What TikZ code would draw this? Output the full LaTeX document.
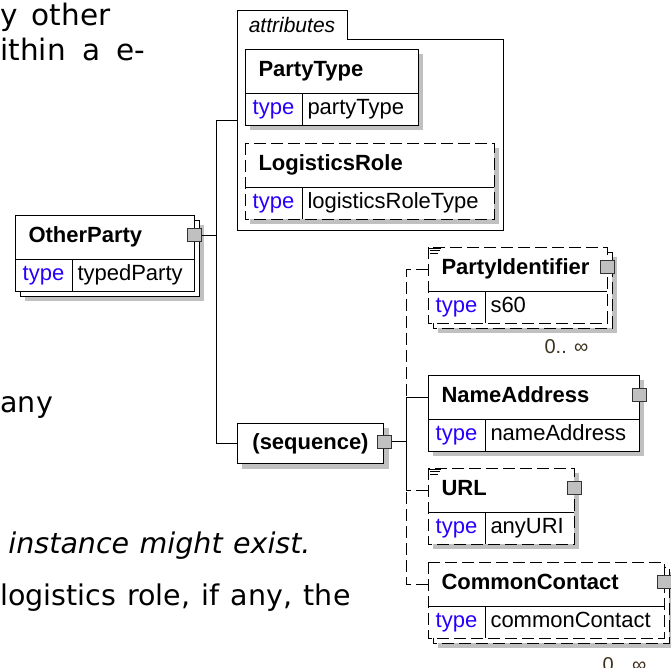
\documentclass[tikz,border=0pt]{standalone}
\usepackage{fontspec}
\setmainfont{Liberation Sans}
\newfontfamily\bgfont{DejaVu Sans}
\usetikzlibrary{positioning,backgrounds}

\definecolor{typeblue}{RGB}{40,0,255}
\definecolor{shadowgray}{RGB}{192,192,192}
\definecolor{occtext}{RGB}{60,50,30}

\tikzset{
  elname/.style={anchor=north west, minimum height=43, inner xsep=13, inner ysep=0,
    align=left, text height=16, text depth=5, font=\fontsize{22}{26}\selectfont\bfseries},
  eltype/.style={anchor=north west, minimum width=56, minimum height=31, inner sep=0,
    text height=16, text depth=5, text=typeblue, font=\fontsize{22}{26}\selectfont},
  elvalue/.style={anchor=west, inner xsep=5, inner ysep=0, text height=16, text depth=5,
    font=\fontsize{22}{26}\selectfont},
  seqbox/.style={anchor=north west, draw, fill=white, minimum width=146, minimum height=40,
    inner sep=0, text height=16, text depth=5, font=\fontsize{22}{26}\selectfont\bfseries},
  attrtab/.style={anchor=north west, minimum width=109, minimum height=28, inner sep=0,
    text height=15, text depth=0, font=\fontsize{21}{25}\selectfont\itshape},
  optional/.style={dash pattern=on 12pt off 5pt},
  required/.style={solid},
  elshadow/.style={fill=shadowgray},
  expander/.style={draw=black!80, fill=shadowgray, minimum width=14, minimum height=13,
    inner sep=0, yshift=2pt},
  occurs/.style={anchor=base east, inner sep=0, text=occtext, font=\fontsize{20}{24}\selectfont},
  bgtext/.style={anchor=base west, inner sep=0, font=\bgfont\fontsize{28.5}{34}\selectfont},
  bgbig/.style={bgtext, font=\bgfont\fontsize{29.5}{35}\selectfont},
  bgitalic/.style={bgtext, font=\bgfont\itshape\fontsize{28.5}{34}\selectfont},
  docmark/.pic={\draw[line width=0.8] (0,0) -- (13,0) (2,2.5) -- (12,2.5) (2,5) -- (10,5);},
}

% #1 id, #2 top left, #3 width of the name, #4 name, #5 type, #6 border, #7 copies behind
\newcommand{\xsdelement}[7]{%
  \node[elname, text width=#3] (#1) at (#2) {#4};
  \node[eltype] (#1-t) at (#1.south west) {type};
  \node[elvalue] (#1-v) at (#1-t.east) {#5};
  \coordinate (#1-se) at (#1.east |- #1-t.south);
  \begin{scope}[on background layer]
    \fill[elshadow] ([shift={(5+5*#7,5+5*#7)}]#1.north west) rectangle ([shift={(5+5*#7,5+5*#7)}]#1-se);
    \ifnum#7>0
      \draw[#6, fill=white] ([shift={(5,5)}]#1.north west) rectangle ([shift={(5,5)}]#1-se);
    \fi
    \draw[#6, fill=white] (#1.north west) rectangle (#1-se);
  \end{scope}
  \draw (#1.south west) -- (#1.south east) (#1-t.north east) -- (#1-t.south east);
}

\begin{document}
\begin{tikzpicture}[x=1pt, y=-1pt, line width=1pt]
  \useasboundingbox (0,0) rectangle (671,667);

  % text of the page behind the diagram
  \node[bgbig] (bg-1) at (0,25) {\makebox[110pt][s]{y other}};
  \node[bgbig] (bg-2) at (0,60) {\makebox[145pt][s]{ithin a e-}};
  \node[bgtext] (bg-3) at (0,412) {any};
  \node[bgitalic] (bg-4) at (8,553) {\makebox[302pt][s]{instance might exist.}};
  \node[bgtext] (bg-5) at (0,605) {\makebox[350pt][s]{logistics role, if any, the}};

  % attributes
  \node[anchor=north west, minimum width=265, minimum height=219, inner sep=0] (attr) at (237,10) {};
  \node[attrtab] (attr-tab) at (attr.north west) {attributes};
  \draw (attr.south west) -- (attr.north west) -- (attr-tab.north east) -- (attr-tab.south east)
    -| (attr.south east) -- cycle;
  \xsdelement{pt}{245,49}{146pt}{PartyType}{partyType}{required}{0}
  \xsdelement{lr}{245,143}{222pt}{LogisticsRole}{logisticsRoleType}{optional}{0}

  % root and sequence
  \xsdelement{op}{15,215}{152pt}{OtherParty}{typedParty}{required}{1}
  \node[seqbox] (seq) at (237,423) {(sequence)};
  \begin{scope}[on background layer]
    \fill[elshadow] ([shift={(5,5)}]seq.north west) rectangle ([shift={(5,5)}]seq.south east);
  \end{scope}

  % children
  \xsdelement{pi}{428,247}{152pt}{PartyIdentifier}{s60}{optional}{1}
  \xsdelement{na}{428,375}{184pt}{NameAddress}{nameAddress}{required}{0}
  \xsdelement{url}{428,468}{119pt}{URL}{anyURI}{optional}{0}
  \xsdelement{cc}{428,562}{209pt}{CommonContact}{commonContact}{optional}{1}
  \pic at ([shift={(0,1)}]pi.north west) {docmark};
  \pic at ([shift={(0,1)}]url.north west) {docmark};
  \node[occurs] (pi-occ) at (589,353) {0.. ∞};
  \node[occurs] (cc-occ) at (647,671) {0.. ∞};

  \node[expander] (op-x) at (op.east) {};
  \node[expander] (seq-x) at (seq.east) {};
  \node[expander] (pi-x) at (pi.east) {};
  \node[expander] (na-x) at (na.east) {};
  \node[expander] (url-x) at (url.east) {};
  \node[expander] (cc-x) at (cc.east) {};

  % connectors
  \path (op-x.east) -- ++(15,0) coordinate (op-fork);
  \path (seq-x.east) -- ++(15,0) coordinate (seq-fork);
  \draw (op-x) -- (op-fork);
  \draw (attr.west) -| (op-fork) |- (seq.west);
  \draw (seq-x) -- (seq-fork);
  \draw (na.west) -| (seq-fork);
  \draw[optional] (pi.west) -| (seq-fork);
  \draw[optional] (url.west) -| (seq-fork);
  \draw[optional] (cc.west) -| (seq-fork);
\end{tikzpicture}
\end{document}
